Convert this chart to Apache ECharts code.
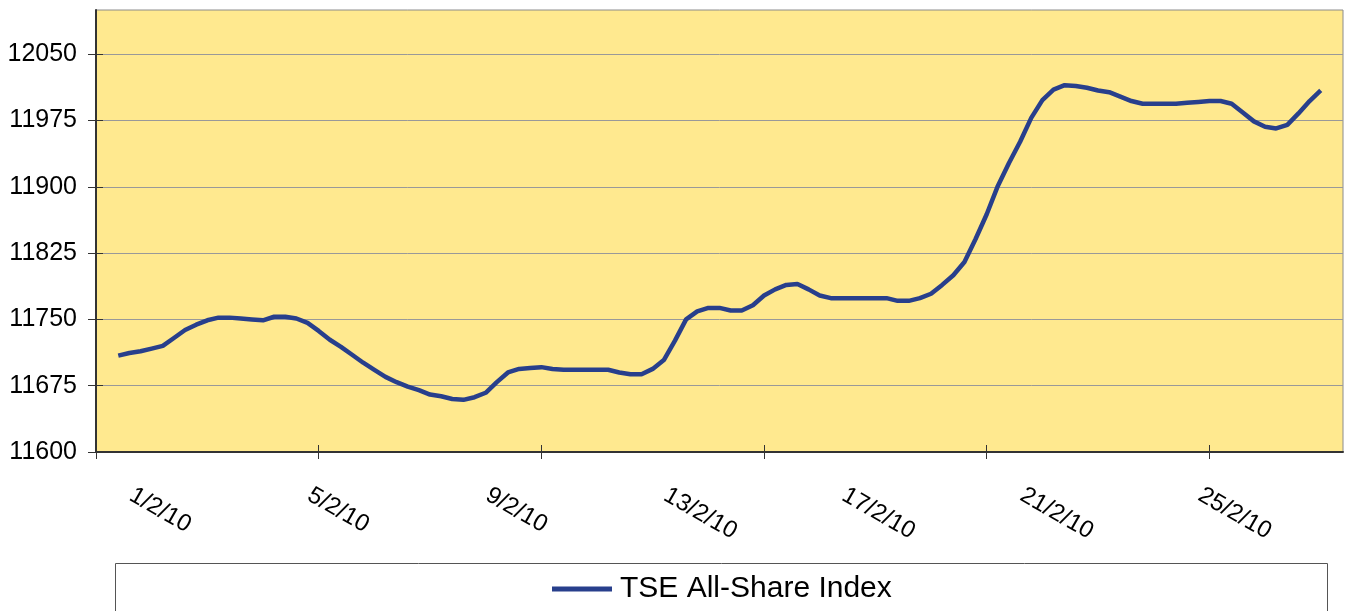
<!DOCTYPE html>
<html>
<head>
<meta charset="utf-8">
<script src="https://cdn.jsdelivr.net/npm/echarts@6/dist/echarts.min.js"></script>
<style>
  html, body { margin: 0; padding: 0; background: #fff; }
  #container { width: 1348px; height: 611px; }
</style>
</head>
<body>
<div id="container"></div>
<script>
// TSE All-Share Index, 4 readings per day from 1/2/10 to 28/2/10
const indexValues = [
  11709, 11712, 11714, 11717, 11720, 11729, 11738, 11744, 11749, 11752,
  11752, 11751, 11750, 11749, 11753, 11753, 11751, 11746, 11737, 11727,
  11719, 11710, 11701, 11693, 11685, 11679, 11674, 11670, 11665, 11663,
  11660, 11659, 11662, 11667, 11679, 11690, 11694, 11695, 11696, 11694,
  11693, 11693, 11693, 11693, 11693, 11690, 11688, 11688, 11694, 11704,
  11726, 11750, 11759, 11763, 11763, 11760, 11760, 11766, 11777, 11784,
  11789, 11790, 11784, 11777, 11774, 11774, 11774, 11774, 11774, 11774,
  11771, 11771, 11774, 11779, 11789, 11800, 11815, 11841, 11869, 11901,
  11927, 11951, 11978, 11998, 12010, 12015, 12014, 12012, 12009, 12007,
  12002, 11997, 11994, 11994, 11994, 11994, 11995, 11996, 11997, 11997,
  11994, 11984, 11974, 11968, 11966, 11970, 11983, 11997, 12009
];
const readingsPerDay = 4;
const firstDay = 1;

// x axis: day labels and tick marks (in days of February)
const dayLabels = ['1/2/10', '5/2/10', '9/2/10', '13/2/10', '17/2/10', '21/2/10', '25/2/10'];
const labelDays = [1, 5, 9, 13, 17, 21, 25];
const tickDays = [0.5, 5.5, 10.5, 15.5, 20.5, 25.5];

// y axis ticks
const yTicks = [11600, 11675, 11750, 11825, 11900, 11975, 12050];

const seriesName = 'TSE All-Share Index';
const lineColor = '#283F8C';
const font = "'Liberation Sans', Arial, sans-serif";

const seriesData = indexValues.map((v, i) => [firstDay + i / readingsPerDay, v]);

const myChart = echarts.init(document.getElementById('container'));
const option = {
  backgroundColor: '#fff',
  animation: false,
  textStyle: { fontFamily: font },
  grid: {
    left: 96, right: 5, top: 10, bottom: 159,
    show: true,
    backgroundColor: '#FFE98F',
    borderColor: '#8c8c8c',
    borderWidth: 1
  },
  legend: {
    left: 552, top: 574,
    padding: 0,
    icon: 'rect',
    itemWidth: 60, itemHeight: 5,
    itemGap: 0,
    textStyle: { fontSize: 30, color: '#000', fontFamily: font, padding: [0, 0, 0, 3] },
    data: [seriesName]
  },
  graphic: [{
    type: 'rect',
    shape: { x: 115.5, y: 563.5, width: 1212, height: 60 },
    style: { fill: 'none', stroke: '#555', lineWidth: 1 },
    silent: true
  }],
  xAxis: [{
    type: 'value',
    min: 0.5, max: 28.5,
    axisLine: { show: true, lineStyle: { color: '#333', width: 2 } },
    axisTick: { show: true, customValues: tickDays, length: 7, lineStyle: { color: '#333', width: 1 } },
    axisLabel: {
      customValues: labelDays,
      rotate: -30,
      margin: 34,
      padding: [0, 0, 0, 15],
      fontSize: 24,
      color: '#000',
      fontFamily: font,
      formatter: (v) => dayLabels[labelDays.indexOf(v)] || ''
    },
    splitLine: { show: false }
  }, {
    type: 'value',
    min: 0.5, max: 28.5,
    position: 'bottom',
    axisLine: { show: false },
    axisTick: { show: true, inside: true, customValues: tickDays, length: 7, lineStyle: { color: '#333', width: 1 } },
    axisLabel: { show: false },
    splitLine: { show: false }
  }],
  yAxis: [{
    type: 'value',
    min: 11600, max: 12100,
    axisLine: { show: true, lineStyle: { color: '#333', width: 2 } },
    axisTick: { show: true, customValues: yTicks, length: 8, lineStyle: { color: '#333', width: 1 } },
    axisLabel: {
      customValues: yTicks,
      margin: 19,
      fontSize: 25,
      color: '#000',
      fontFamily: font,
      formatter: (v) => String(v)
    },
    splitLine: { show: true, lineStyle: { color: '#999', width: 1 } }
  }, {
    type: 'value',
    min: 11600, max: 12100,
    position: 'left',
    axisLine: { show: false },
    axisTick: { show: true, inside: true, customValues: yTicks, length: 7, lineStyle: { color: '#333', width: 1 } },
    axisLabel: { show: false },
    splitLine: { show: false }
  }],
  series: [{
    name: seriesName,
    type: 'line',
    xAxisIndex: 0,
    yAxisIndex: 0,
    data: seriesData,
    showSymbol: false,
    symbol: 'none',
    lineStyle: { color: lineColor, width: 4.5 },
    itemStyle: { color: lineColor }
  }]
};
myChart.setOption(option);
</script>
</body>
</html>
